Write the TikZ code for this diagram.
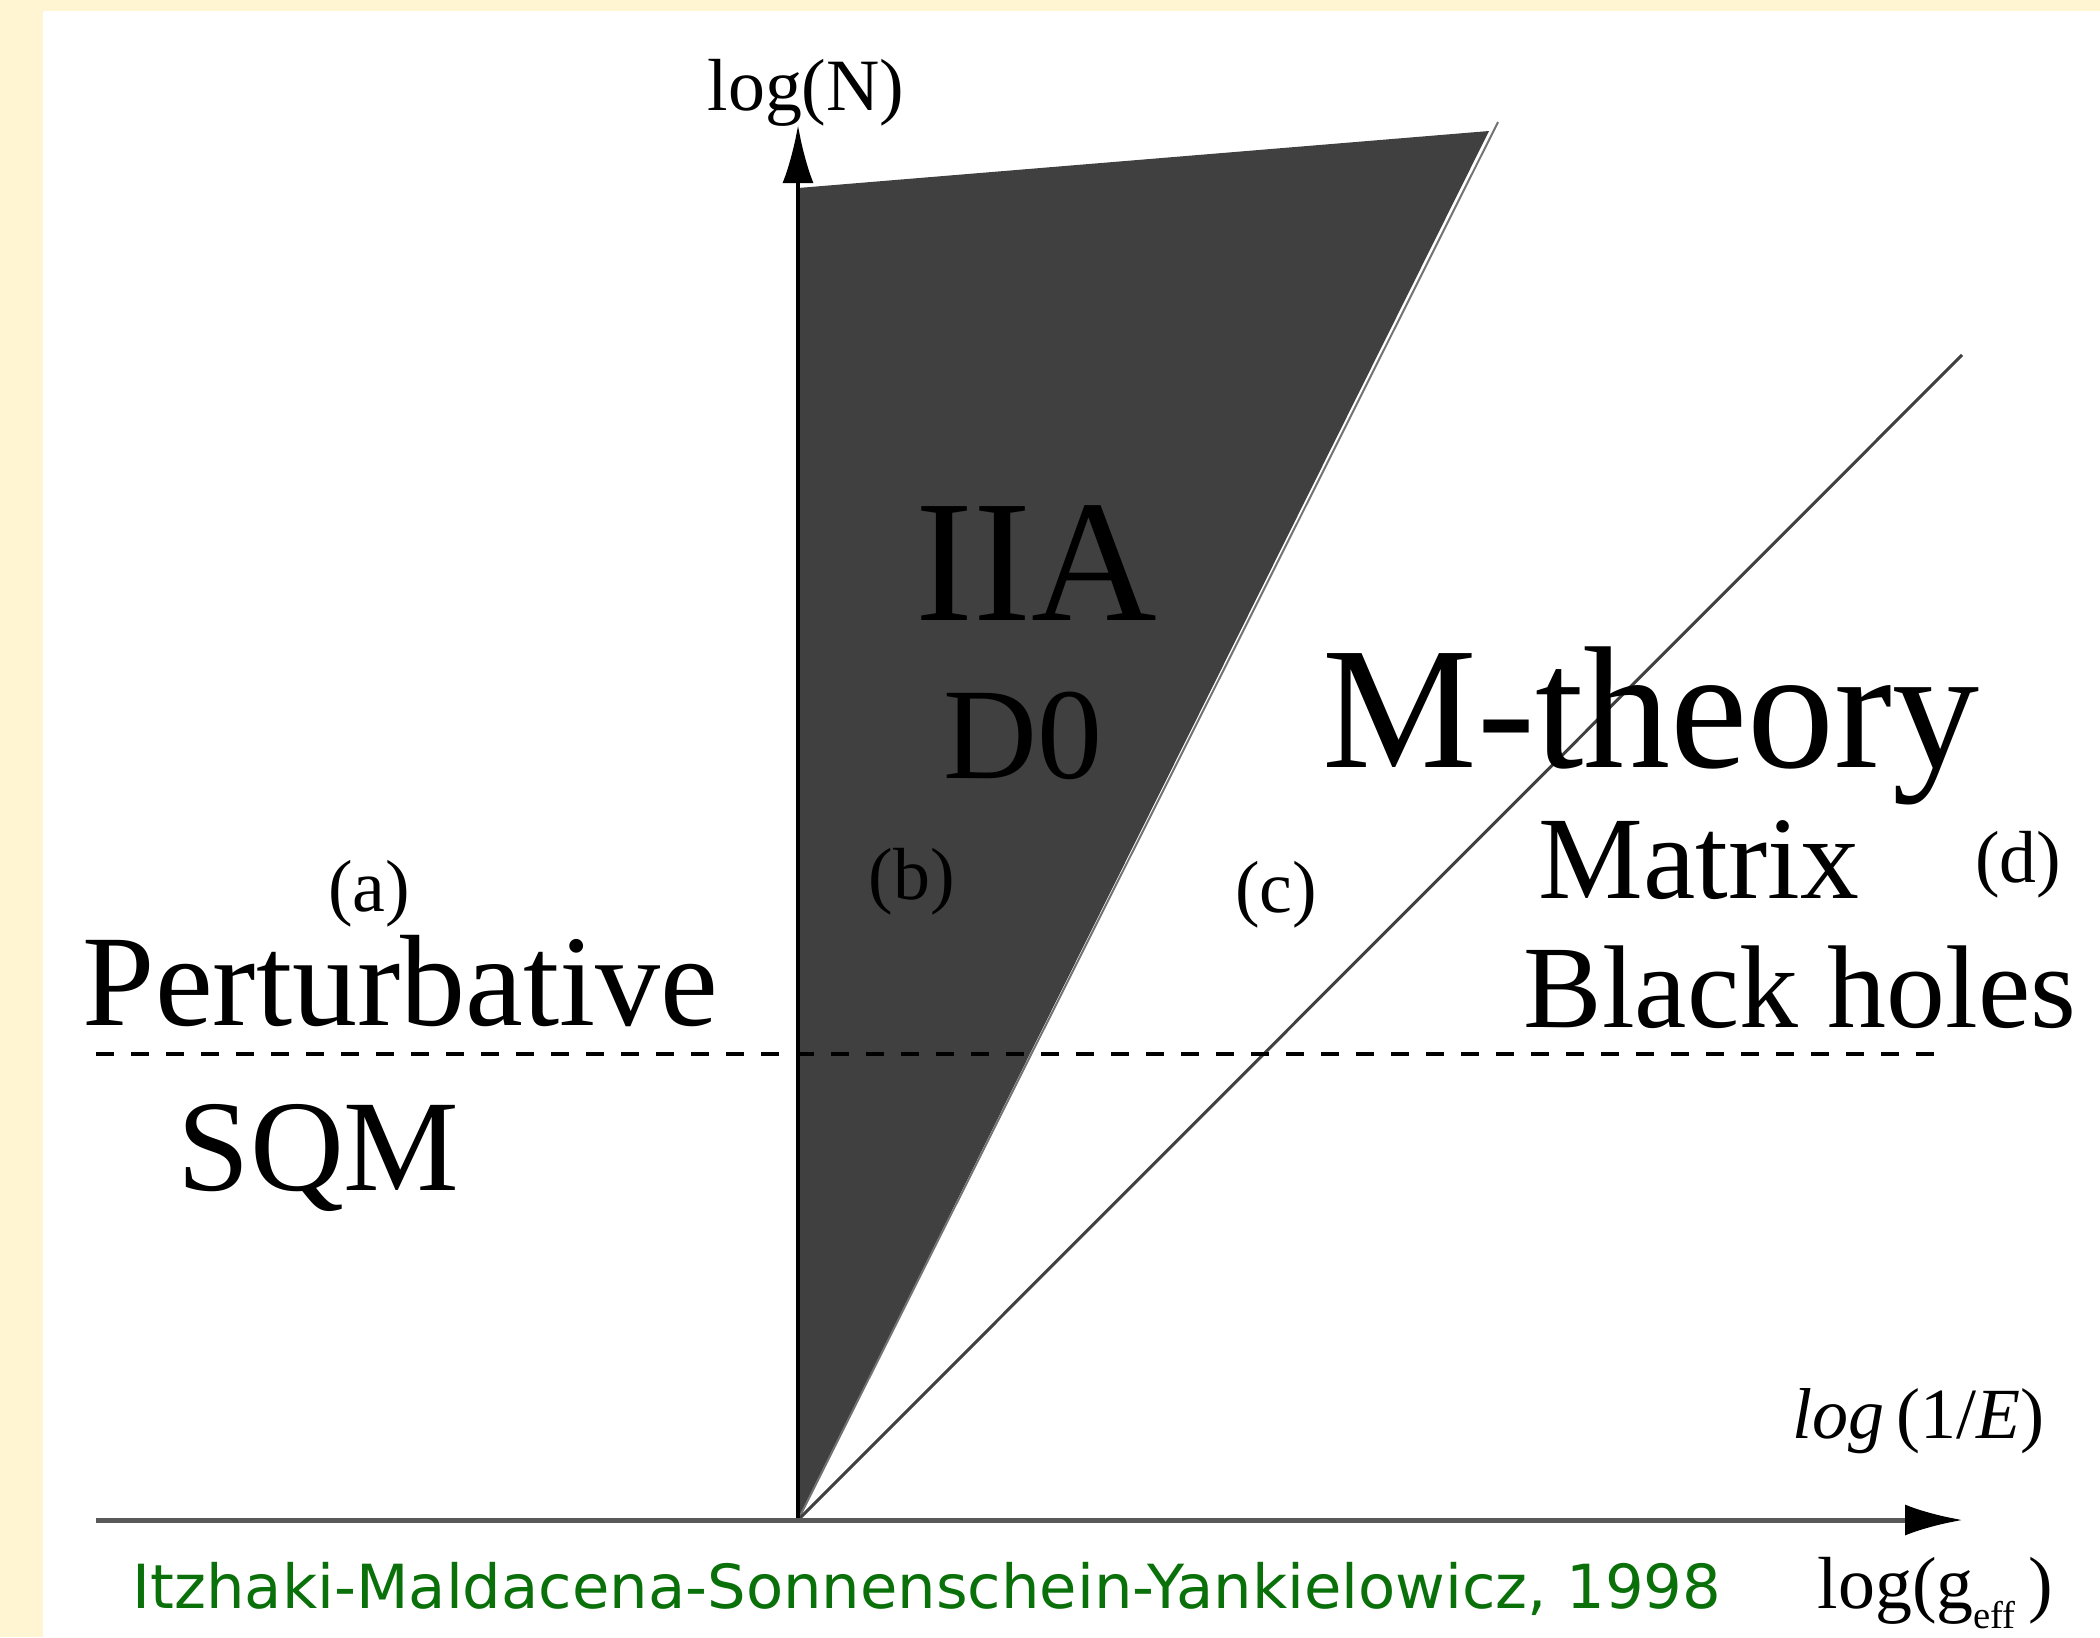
\documentclass[tikz,border=0pt]{standalone}
\usepackage{fontspec}
\setmainfont{Liberation Serif}
\newfontfamily\capfont{DejaVu Sans}
\usepackage{xcolor}
\usetikzlibrary{arrows.meta,positioning}
\definecolor{cream}{RGB}{255,245,210}
\definecolor{iiagray}{RGB}{64,64,64}
\definecolor{capgreen}{RGB}{10,112,10}

\begin{document}
\begin{tikzpicture}[x=0.1mm, y=-0.1mm, >={Latex[length=5.8mm,width=3.1mm,color=black]},
  every node/.style={inner sep=0pt, anchor=base west},
  hugelabel/.style={font=\fontsize{49.5}{50}\selectfont},
  biglabel/.style={font=\fontsize{37}{38}\selectfont},
  midlabel/.style={font=\fontsize{33.5}{34}\selectfont},
  tag/.style={font=\fontsize{21}{22}\selectfont, anchor=base},
  axis/.style={line width=0.42mm},
  boundary/.style={line width=0.3mm, black!75}]
% page and panel
\useasboundingbox (0,0) rectangle (2100,1637);
\fill[cream] (0,0) rectangle (2100,1637);
\fill[white] (43,11) rectangle (2100,1637);

% corners of the diagram
\coordinate (O) at (798,1520);
\coordinate (ytop) at (798,188);
\coordinate (ytip) at (798,125);
\coordinate (iiacorner) at (1489,131);
\coordinate (iiaend) at (1498,122);
\coordinate (bhend) at (1962,355);
\coordinate (xstart) at (96,1520);
\coordinate (xtip) at (1963,1520);
\coordinate (dashL) at (96,1054);
\coordinate (dashR) at (1935,1054);

% IIA wedge
\fill[iiagray] (O) -- (ytop) -- (iiacorner) -- cycle;
\draw[line width=0.2mm, black!55] (O) -- (iiaend);
\draw[boundary] (O) -- (bhend);
\draw[line width=0.35mm, dash pattern=on 1.8mm off 1.7mm] (dashL) -- (dashR);

% axes
\draw[axis, ->] (O) -- (ytip);
\draw[axis, line width=0.5mm, black!65, ->] (xstart) -- (xtip);

% labels
\node[tag] (logN) at (806,110) {log(N)};
\node[hugelabel] (iia) at (915,620) {IIA};
\node[biglabel] (d0) at (943,778) {D0};
\node[hugelabel] (mth) at (1322,767) {M-theory};
\node[midlabel] (matrix) at (1538,898) {Matrix};
\node[midlabel] (bh) at (1523,1027) {Black holes};
\node[biglabel] (pert) at (82,1025) {Perturbative};
\node[biglabel] (sqm) at (177,1190) {SQM};
\node[tag] (ta) at (369,911) {(a)};
\node[tag] (tb) at (912,899) {(b)};
\node[tag] (tc) at (1276,912) {(c)};
\node[tag] (td) at (2018,882) {(d)};
\node[font=\fontsize{20.5}{21}\selectfont] (logE) at (1792,1438) {\textit{log}\,(1/\textit{E})};
\node[font=\fontsize{21}{22}\selectfont] (logg) at (1817,1608)
  {log(g\raisebox{-2mm}{\fontsize{11}{11}\selectfont eff}\,)};
\node[font=\capfont\fontsize{17.3}{20}\selectfont, text=capgreen] (cite) at (132,1608)
  {Itzhaki-Maldacena-Sonnenschein-Yankielowicz, 1998};
\end{tikzpicture}
\end{document}
